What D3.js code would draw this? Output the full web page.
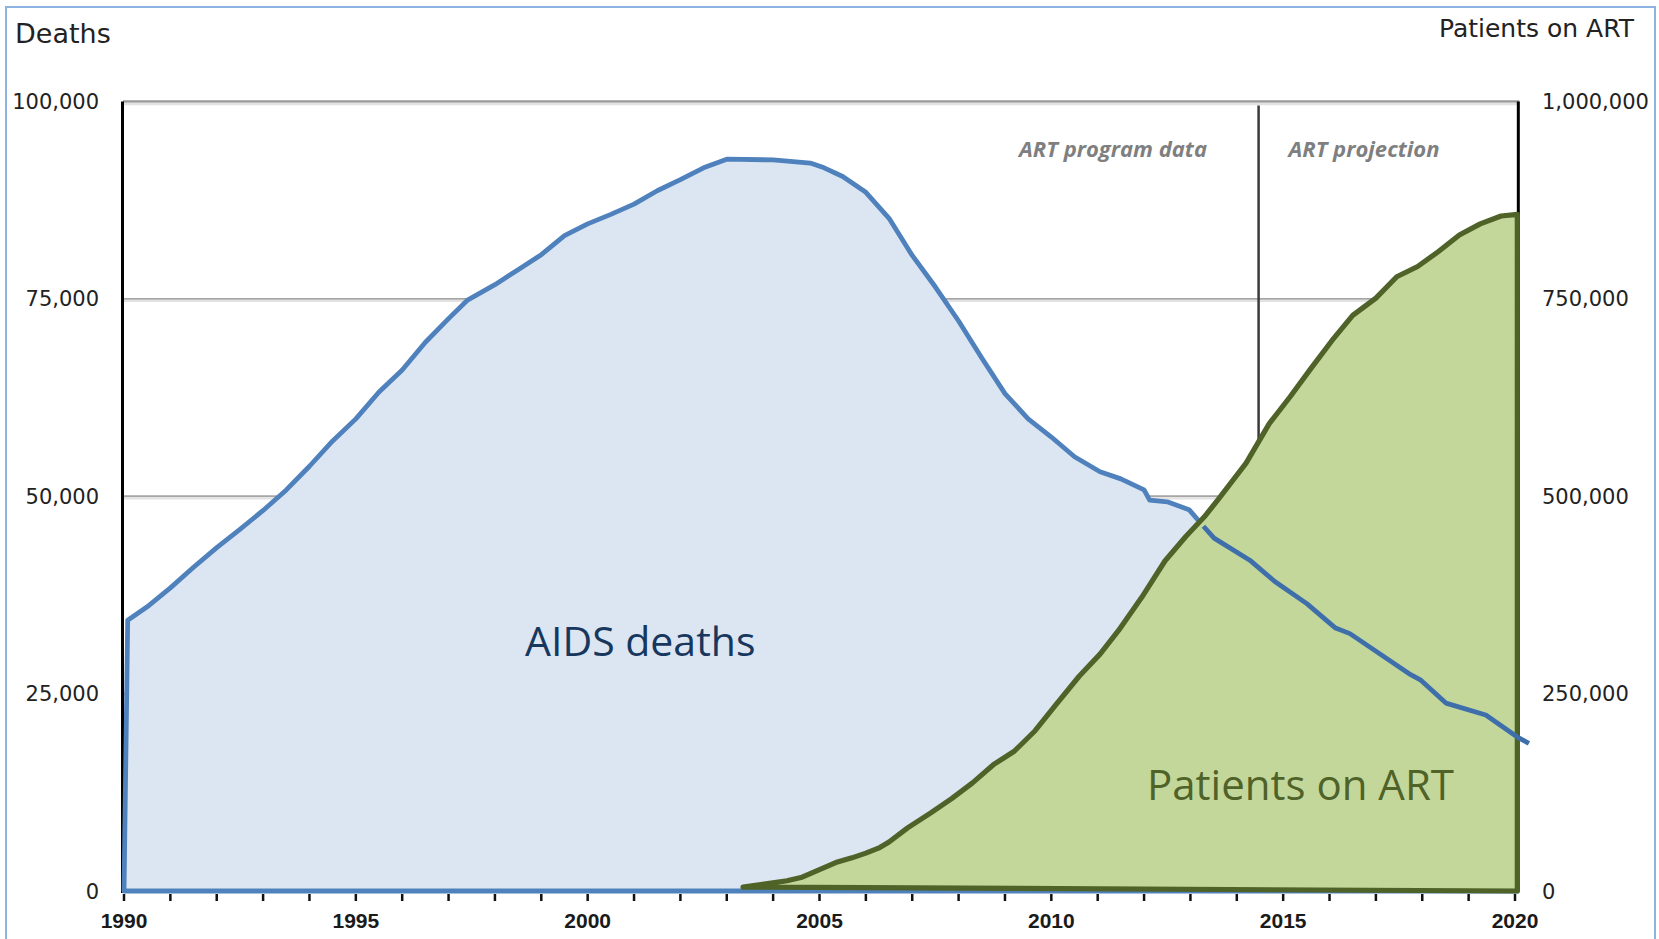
<!DOCTYPE html>
<html>
<head>
<meta charset="utf-8">
<script src="https://cdn.jsdelivr.net/npm/d3@7"></script>
<style>
  html, body { margin: 0; padding: 0; background: #ffffff; }
  svg { display: block; }
</style>
</head>
<body>
<svg id="chart" width="1659" height="939"></svg>
<script>
// ---- Data ----
const deathYears = [1990.0, 1990.08, 1990.5, 1991.0, 1991.5, 1992.0, 1992.5, 1993.0, 1993.5, 1994.0,
  1994.5, 1995.0, 1995.5, 1996.0, 1996.5, 1997.0, 1997.4, 1998.0, 1998.5, 1999.0,
  1999.5, 2000.0, 2000.5, 2001.0, 2001.5, 2002.0, 2002.5, 2003.0, 2004.0, 2004.8,
  2005.1, 2005.5, 2006.0, 2006.5, 2007.0, 2007.5, 2008.0, 2008.5, 2009.0, 2009.5,
  2010.0, 2010.5, 2011.05, 2011.5, 2012.0, 2012.12, 2012.5, 2012.97, 2013.28, 2013.51,
  2014.28, 2014.82, 2015.51, 2016.13, 2016.44, 2017.75, 2017.97, 2018.51, 2019.37, 2020.05, 2020.3];
const deathValues = [0, 34300, 36000, 38400, 41000, 43500, 45800, 48200, 50800, 53800,
  57000, 59800, 63200, 66000, 69500, 72500, 74800, 76800, 78700, 80600,
  83000, 84500, 85700, 87000, 88700, 90100, 91600, 92700, 92600, 92200,
  91600, 90500, 88500, 85200, 80500, 76500, 72200, 67500, 63000, 59800,
  57500, 55000, 53100, 52200, 50800, 49500, 49300, 48300, 46200, 44700,
  41900, 39200, 36400, 33300, 32600, 27400, 26700, 23800, 22300, 19500, 18700];

const artYears = [2003.35, 2004.3, 2004.6, 2005.0, 2005.35, 2005.7, 2006.0, 2006.3, 2006.5, 2006.9,
  2007.4, 2007.85, 2008.3, 2008.75, 2009.2, 2009.65, 2010.1, 2010.6, 2011.05, 2011.45,
  2011.95, 2012.45, 2012.9, 2013.3, 2013.6, 2014.2, 2014.7, 2015.15, 2015.6, 2016.05,
  2016.5, 2017.0, 2017.45, 2017.9, 2018.35, 2018.8, 2019.25, 2019.7, 2020.05, 2020.05];
const artValues = [5000, 13000, 17000, 27000, 36000, 42000, 48000, 55000, 62000, 80000,
  99000, 117000, 137000, 160000, 177000, 203000, 236000, 272000, 300000, 330000,
  372000, 418000, 449000, 474000, 496000, 542000, 592000, 626000, 662000, 697000,
  729000, 751000, 778000, 791000, 810000, 831000, 845000, 855000, 857000, 0];

const xTickYears = d3.range(1990, 2021, 1);
const xLabelYears = [1990, 1995, 2000, 2005, 2010, 2015, 2020];
const leftTicks = [0, 25000, 50000, 75000, 100000];
const rightTicks = [0, 250000, 500000, 750000, 1000000];
const gridTicks = [25000, 50000, 75000];
const fillEndYear = 2020.05;
const splitYear = 2014.47;
const overlayFromYear = 2013.28;

// ---- Scales ----
const x = d3.scaleLinear().domain([1990, 2020]).range([124, 1515]);
const yL = d3.scaleLinear().domain([0, 100000]).range([891, 101.5]);
const yR = d3.scaleLinear().domain([0, 1000000]).range([891, 101.5]);

const svg = d3.select("#chart");
const fmt = d3.format(",");

// border
svg.append("rect").attr("x", 6).attr("y", 7).attr("width", 1649).attr("height", 940)
  .attr("fill", "#ffffff").attr("stroke", "#8db3e2").attr("stroke-width", 2);

// gridlines
svg.append("g").selectAll("line").data(gridTicks).join("line")
  .attr("x1", x(1990)).attr("x2", x(fillEndYear))
  .attr("y1", d => yL(d)).attr("y2", d => yL(d))
  .attr("stroke", "#a6a6a6").attr("stroke-width", 1.8);
svg.append("g").selectAll("line").data(gridTicks).join("line")
  .attr("x1", x(1990)).attr("x2", x(fillEndYear))
  .attr("y1", d => yL(d) + 2.2).attr("y2", d => yL(d) + 2.2)
  .attr("stroke", "#e2e2e2").attr("stroke-width", 2);
// top frame line
svg.append("line").attr("x1", x(1990) - 1).attr("x2", x(fillEndYear) + 2)
  .attr("y1", yL(100000)).attr("y2", yL(100000))
  .attr("stroke", "#9a9a9a").attr("stroke-width", 2.5);
svg.append("line").attr("x1", x(1990)).attr("x2", x(fillEndYear))
  .attr("y1", yL(100000) + 2.5).attr("y2", yL(100000) + 2.5)
  .attr("stroke", "#e2e2e2").attr("stroke-width", 2.5);

// split vertical line (program data | projection)
svg.append("line").attr("x1", x(splitYear)).attr("x2", x(splitYear))
  .attr("y1", yL(100000) + 4).attr("y2", yL(0))
  .attr("stroke", "#3a3a3a").attr("stroke-width", 2.5);

// axis verticals
svg.append("line").attr("x1", x(1990) - 1.5).attr("x2", x(1990) - 1.5)
  .attr("y1", yL(100000)).attr("y2", yL(0) + 2)
  .attr("stroke", "#000").attr("stroke-width", 3);
svg.append("line").attr("x1", x(fillEndYear) + 1).attr("x2", x(fillEndYear) + 1)
  .attr("y1", yL(100000)).attr("y2", yL(0))
  .attr("stroke", "#000").attr("stroke-width", 3);

// x ticks
svg.append("g").selectAll("line").data(xTickYears).join("line")
  .attr("x1", d => x(d)).attr("x2", d => x(d))
  .attr("y1", yL(0) + 3).attr("y2", yL(0) + 10)
  .attr("stroke", "#111").attr("stroke-width", 2.5);

// ---- Deaths area ----
const deaths = deathYears.map((yr, i) => ({ yr, v: deathValues[i] }));
const fillPts = deaths.filter(d => d.yr <= fillEndYear);
const areaPts = fillPts.map(d => [x(d.yr), yL(d.v)]);
areaPts.push([x(fillEndYear), yL(0)]);
const poly = d3.line().curve(d3.curveLinearClosed);
svg.append("path").attr("d", poly(areaPts))
  .attr("fill", "#dce6f2").attr("stroke", "#4f81bd").attr("stroke-width", 4.8)
  .attr("stroke-linejoin", "round");

// ---- ART area ----
const artPts = artYears.map((yr, i) => [x(yr), yR(artValues[i])]);
svg.append("path").attr("d", poly(artPts))
  .attr("fill", "#c4d79b").attr("stroke", "#4f6228").attr("stroke-width", 5.2)
  .attr("stroke-linejoin", "round");

// deaths line on top after crossing
const lineGen = d3.line().x(d => x(d.yr)).y(d => yL(d.v));
svg.append("path").attr("d", lineGen(deaths.filter(d => d.yr >= overlayFromYear)))
  .attr("fill", "none").attr("stroke", "#3f6fab").attr("stroke-width", 4.8)
  .attr("stroke-linejoin", "round");

// ---- Axis labels ----
const tickFont = "DejaVu Sans, Verdana, sans-serif";
svg.append("g").selectAll("text").data(leftTicks).join("text")
  .attr("x", 99).attr("y", d => yL(d)).attr("dy", "0.36em")
  .attr("text-anchor", "end").attr("font-family", tickFont).attr("font-size", 21)
  .attr("fill", "#222").text(d => fmt(d));
svg.append("g").selectAll("text").data(rightTicks).join("text")
  .attr("x", 1542).attr("y", d => yR(d)).attr("dy", "0.36em")
  .attr("text-anchor", "start").attr("font-family", tickFont).attr("font-size", 21)
  .attr("fill", "#222").text(d => fmt(d));
svg.append("g").selectAll("text").data(xLabelYears).join("text")
  .attr("x", d => x(d)).attr("y", 928)
  .attr("text-anchor", "middle").attr("font-family", "Liberation Sans, Arial, sans-serif")
  .attr("font-weight", "bold").attr("font-size", 21)
  .attr("fill", "#1a1a1a").text(d => d);

// titles
svg.append("text").attr("x", 15).attr("y", 43)
  .attr("font-family", tickFont).attr("font-size", 27).attr("fill", "#222").text("Deaths");
svg.append("text").attr("x", 1634).attr("y", 37).attr("text-anchor", "end")
  .attr("font-family", tickFont).attr("font-size", 25).attr("fill", "#222").text("Patients on ART");

// region labels
svg.append("text").attr("x", 1113).attr("y", 157).attr("text-anchor", "middle")
  .attr("font-family", "Open Sans, sans-serif").attr("font-style", "italic").attr("font-weight", "bold")
  .attr("font-size", 22).attr("fill", "#7f7f7f").text("ART program data");
svg.append("text").attr("x", 1364).attr("y", 157).attr("text-anchor", "middle")
  .attr("font-family", "Open Sans, sans-serif").attr("font-style", "italic").attr("font-weight", "bold")
  .attr("font-size", 22).attr("fill", "#7f7f7f").text("ART projection");

// series labels
svg.append("text").attr("x", 525).attr("y", 656)
  .attr("font-family", "Open Sans, sans-serif").attr("font-size", 41).attr("fill", "#17375e")
  .text("AIDS deaths");
svg.append("text").attr("x", 1147).attr("y", 800)
  .attr("font-family", "Open Sans, sans-serif").attr("font-size", 42).attr("fill", "#4f6228")
  .text("Patients on ART");
</script>
</body>
</html>
